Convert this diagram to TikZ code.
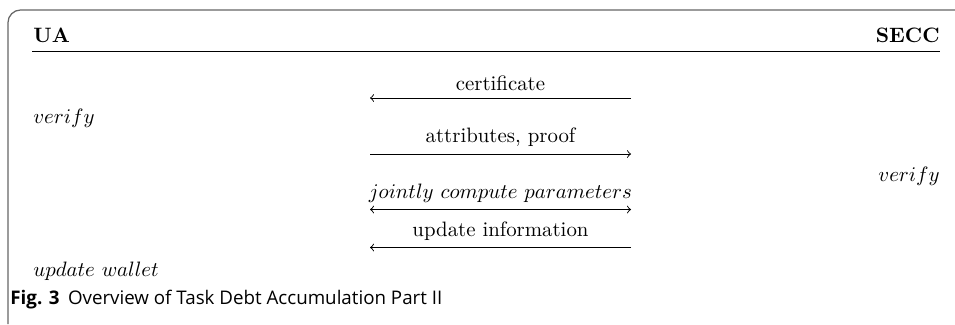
\documentclass[tikz,border=0pt]{standalone}
\usepackage{fontspec}
\newfontfamily\capfont{Open Sans}
\begin{document}
\begin{tikzpicture}[x=0.48pt,y=-0.48pt,
  party/.style={font=\bfseries},
  act/.style={inner sep=0pt},
  msg/.style={inner sep=0pt, anchor=base},
  flow/.style={line width=0.45pt}]
\useasboundingbox (0,0) rectangle (955,324);
% frame around figure
\draw[gray!80!black, line width=0.6pt, rounded corners=6pt] (8,324) -- (8,10) -- (960,10);
% parties
\node[party, anchor=base west, inner sep=0pt] (ua) at (33,42) {UA};
\node[party, anchor=base east, inner sep=0pt] (secc) at (940,42) {SECC};
\coordinate (rl) at (32,51);
\coordinate (rr) at (940,51);
\draw[line width=0.45pt] (rl) -- (rr);
% message endpoints
\coordinate (a1l) at (370,98);    \coordinate (a1r) at (631,98);
\coordinate (a2l) at (370,154);   \coordinate (a2r) at (631,154);
\coordinate (a3l) at (370,209.5); \coordinate (a3r) at (631,209.5);
\coordinate (a4l) at (370,247.5); \coordinate (a4r) at (631,247.5);
\draw[flow,->] (a1r) -- (a1l);
\draw[flow,->] (a2l) -- (a2r);
\draw[flow,<->] (a3l) -- (a3r);
\draw[flow,->] (a4r) -- (a4l);
% message labels
\node[msg] (m1) at (500.5,90) {certificate};
\node[msg] (m2) at (500.5,142) {attributes, proof};
\node[msg] (m3) at (500.5,198.5) {$jointly\ compute\ parameters$};
\node[msg] (m4) at (500.5,236.5) {update information};
% local actions
\node[act, anchor=base west] (v1) at (33,123) {$verify$};
\node[act, anchor=base east] (v2) at (940,181) {$verify$};
\node[act, anchor=base west] (uw) at (33,276) {$update\ wallet$};
% caption
\node[anchor=base west, inner sep=0pt, font=\capfont\fontsize{9pt}{11pt}\selectfont] (cap) at (10,304.5)
  {\textbf{Fig. 3}\hspace{0.45em}Overview of Task Debt Accumulation Part II};
\end{tikzpicture}
\end{document}
